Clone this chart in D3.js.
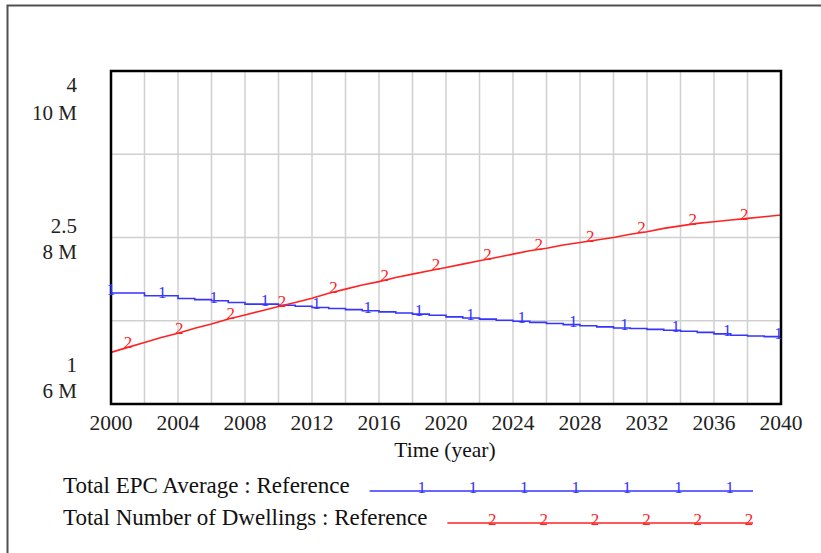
<!DOCTYPE html>
<html>
<head>
<meta charset="utf-8">
<script src="https://cdn.jsdelivr.net/npm/d3@7"></script>
<style>
  html, body { margin: 0; padding: 0; background: #fff; overflow: hidden; }
  text { font-family: "Liberation Serif", "DejaVu Serif", serif; }
</style>
</head>
<body>
<div id="chart"></div>
<script>
// Data (Vensim-style run output)
const years = d3.range(2000, 2041);
const epcAverage = [
  2.00, 2.00, 1.975, 1.975, 1.95, 1.94, 1.93, 1.915, 1.90, 1.90,
  1.89, 1.88, 1.87, 1.86, 1.85, 1.84, 1.83, 1.82, 1.81, 1.80,
  1.785, 1.775, 1.765, 1.755, 1.745, 1.735, 1.725, 1.715, 1.705, 1.695,
  1.685, 1.68, 1.672, 1.665, 1.655, 1.645, 1.632, 1.62, 1.612, 1.607,
  1.605
];
const dwellingsM = [
  6.62, 6.68, 6.74, 6.80, 6.85, 6.91, 6.96, 7.02, 7.07, 7.12,
  7.17, 7.22, 7.27, 7.33, 7.38, 7.43, 7.47, 7.52, 7.56, 7.60,
  7.64, 7.68, 7.72, 7.76, 7.80, 7.84, 7.87, 7.91, 7.94, 7.97,
  8.00, 8.04, 8.07, 8.11, 8.14, 8.17, 8.19, 8.21, 8.23, 8.25,
  8.27
];
const xTickYears = d3.range(2000, 2041, 4);
const epcTicks = [1, 2.5, 4];
const epcTickLabels = ['1', '2.5', '4'];
const dwellTicks = [6, 8, 10];
const dwellTickLabels = ['6 M', '8 M', '10 M'];
const seriesNames = ['Total EPC Average : Reference', 'Total Number of Dwellings : Reference'];

const W = 821, H = 553;
const plot = { left: 111, right: 781, top: 71, bottom: 404 };
const blue = '#3535ff', red = '#ff2222';

const svg = d3.select('#chart').append('svg')
  .attr('width', W).attr('height', H);

// outer frame (runs off the right and bottom edges)
svg.append('rect')
  .attr('x', 7.5).attr('y', 5.5).attr('width', 900).attr('height', 700)
  .attr('fill', 'none').attr('stroke', '#505050').attr('stroke-width', 2);

// scales
const x = d3.scaleLinear().domain([2000, 2040]).range([plot.left, plot.right]);
const yEpc = d3.scaleLinear().domain([1, 4]).range([plot.bottom, plot.top]);
const yDw = d3.scaleLinear().domain([6, 10]).range([plot.bottom, plot.top]);

// grid
const g = svg.append('g');
g.selectAll('.vgrid').data(d3.range(2002, 2040, 2)).enter().append('line')
  .attr('x1', d => x(d)).attr('x2', d => x(d))
  .attr('y1', plot.top).attr('y2', plot.bottom)
  .attr('stroke', '#d0d0d0').attr('stroke-width', 1.5);
g.selectAll('.hgrid').data([7, 8, 9]).enter().append('line')
  .attr('x1', plot.left).attr('x2', plot.right)
  .attr('y1', d => yDw(d)).attr('y2', d => yDw(d))
  .attr('stroke', '#d0d0d0').attr('stroke-width', 1.5);

// x axis labels
svg.selectAll('.xt').data(xTickYears).enter().append('text')
  .attr('x', d => x(d)).attr('y', 430)
  .attr('text-anchor', 'middle').attr('font-size', 21.5).attr('fill', '#222')
  .text(d => d);
svg.append('text')
  .attr('x', 445).attr('y', 457)
  .attr('text-anchor', 'middle').attr('font-size', 21.5).attr('fill', '#111')
  .text('Time (year)');

// y labels: two scales stacked at bottom / middle / top
const labelOffsets = [[-32, -6], [-5, 21], [21, 49]];
epcTicks.forEach((v, i) => {
  svg.append('text').attr('x', 77).attr('y', yEpc(v) + labelOffsets[i][0])
    .attr('text-anchor', 'end').attr('font-size', 21).attr('fill', '#222')
    .text(epcTickLabels[i]);
  svg.append('text').attr('x', 77).attr('y', yDw(dwellTicks[i]) + labelOffsets[i][1])
    .attr('text-anchor', 'end').attr('font-size', 21).attr('fill', '#222')
    .text(dwellTickLabels[i]);
});

// series lines
const epcLine = d3.line().curve(d3.curveStepAfter)
  .x((d, i) => x(years[i])).y(d => yEpc(d));
const dwLine = d3.line()
  .x((d, i) => x(years[i])).y(d => yDw(d));

svg.append('path').datum(epcAverage).attr('d', epcLine)
  .attr('fill', 'none').attr('stroke', blue).attr('stroke-width', 1.6);
svg.append('path').datum(dwellingsM).attr('d', dwLine)
  .attr('fill', 'none').attr('stroke', red).attr('stroke-width', 1.6);

// plot frame
svg.append('rect')
  .attr('x', plot.left).attr('y', plot.top)
  .attr('width', plot.right - plot.left).attr('height', plot.bottom - plot.top)
  .attr('fill', 'none').attr('stroke', '#000').attr('stroke-width', 2.5);

// series markers ("1" and "2") along each line
const markerStep = 51.35;
function valueAt(arr, yr, step) {
  const i = Math.max(0, Math.min(arr.length - 1, Math.floor(yr - 2000)));
  if (step || i === arr.length - 1) return arr[i];
  const t = yr - 2000 - i;
  return arr[i] + (arr[i + 1] - arr[i]) * t;
}
const blueMarks = d3.range(plot.left, plot.right + 1, markerStep);
const redMarks = d3.range(plot.left + 17, plot.right - 20, markerStep);
svg.selectAll('.m1').data(blueMarks).enter().append('text')
  .attr('x', d => d).attr('y', d => yEpc(valueAt(epcAverage, x.invert(d), true)) + 2)
  .attr('text-anchor', 'middle').attr('font-size', 17).attr('fill', blue)
  .text('1');
svg.selectAll('.m2').data(redMarks).enter().append('text')
  .attr('x', d => d).attr('y', d => yDw(valueAt(dwellingsM, x.invert(d), false)) + 1)
  .attr('text-anchor', 'middle').attr('font-size', 17).attr('fill', red)
  .text('2');

// legend
const legend = [
  { name: seriesNames[0], color: blue, mark: '1', y: 491, first: 52, count: 7 },
  { name: seriesNames[1], color: red, mark: '2', y: 523, first: 45, count: 6 }
];
legend.forEach(item => {
  const t = svg.append('text')
    .attr('x', 63).attr('y', item.y + 2)
    .attr('font-size', 23).attr('fill', '#111')
    .text(item.name);
  const start = 63 + t.node().getComputedTextLength() + 20;
  svg.append('line')
    .attr('x1', start).attr('x2', 753)
    .attr('y1', item.y).attr('y2', item.y)
    .attr('stroke', item.color).attr('stroke-width', 1.6);
  d3.range(item.count).forEach(k => {
    svg.append('text')
      .attr('x', start + item.first + k * markerStep).attr('y', item.y + 2)
      .attr('text-anchor', 'middle').attr('font-size', 17).attr('fill', item.color)
      .text(item.mark);
  });
});
</script>
</body>
</html>
